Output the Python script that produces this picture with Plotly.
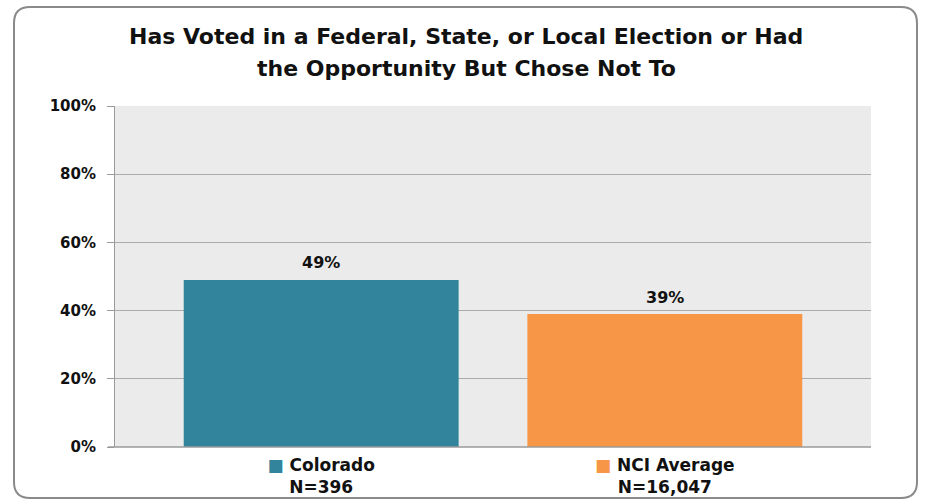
import plotly.graph_objects as go

categories = ["Colorado", "NCI Average"]
sample_sizes = ["N=396", "N=16,047"]
values = [49, 39]
value_labels = ["49%", "39%"]
colors = ["#31849B", "#F79646"]
y_ticks = [0, 20, 40, 60, 80, 100]
y_tick_labels = ["0%", "20%", "40%", "60%", "80%", "100%"]
title_lines = [
    "Has Voted in a Federal, State, or Local Election or Had",
    "the Opportunity But Chose Not To",
]

W, H = 926, 501
L, R, T, B = 115, 55, 106, 54
pw, ph = W - L - R, H - T - B

def px2paper(x, y):
    return (x - L) / pw, (H - B - y) / ph

FONT = "DejaVu Sans"

fig = go.Figure()
fig.add_trace(go.Bar(
    x=list(range(len(categories))), y=values,
    marker=dict(color=colors, line=dict(width=0)),
    width=0.8,
    cliponaxis=False, hoverinfo="skip",
))

# value labels above the bars
for i, (v, lab) in enumerate(zip(values, value_labels)):
    fig.add_annotation(
        x=i, y=v, xref="x", yref="y", text=f"<b>{lab}</b>", showarrow=False,
        yanchor="middle", yshift=17,
        font=dict(family=FONT, size=16, color="#111111"),
    )

# title lines
for line, ypx in zip(title_lines, [37, 68]):
    xp, yp = px2paper(466, ypx)
    fig.add_annotation(
        x=xp, xref="paper", xanchor="center",
        y=yp, yref="paper", yanchor="middle",
        text=f"<b>{line}</b>", showarrow=False,
        font=dict(family=FONT, size=22, color="#111111"),
    )

ticktext = [
    f"<span style='color:{c}'>■</span> {cat}<br>{n}"
    for c, cat, n in zip(colors, categories, sample_sizes)
]

# rounded border
x0, y0, x1, y1, r = 14, 7, 917, 498, 16
def P(x, y):
    a, b = px2paper(x, y)
    return f"{a:.5f},{b:.5f}"
path = (f"M {P(x0 + r, y0)} L {P(x1 - r, y0)} Q {P(x1, y0)} {P(x1, y0 + r)} "
        f"L {P(x1, y1 - r)} Q {P(x1, y1)} {P(x1 - r, y1)} "
        f"L {P(x0 + r, y1)} Q {P(x0, y1)} {P(x0, y1 - r)} "
        f"L {P(x0, y0 + r)} Q {P(x0, y0)} {P(x0 + r, y0)} Z")

fig.update_layout(
    width=W, height=H,
    margin=dict(l=L, r=R, t=T, b=B, pad=0, autoexpand=False),
    paper_bgcolor="white", plot_bgcolor="#EBEBEB",
    showlegend=False,
    xaxis=dict(
        range=[-0.6, 1.6], tickmode="array", tickvals=[0, 1], ticktext=ticktext,
        showgrid=False, zeroline=False, showline=False, ticks="",
        tickfont=dict(family=FONT, size=17, color="#111111", weight="bold"),
        ticklabelstandoff=6, automargin=False,
        fixedrange=True,
    ),
    yaxis=dict(
        range=[0, 100], tickmode="array", tickvals=y_ticks, ticktext=y_tick_labels,
        showgrid=True, gridcolor="#ABABAB", gridwidth=1.3,
        zeroline=False, showline=True, linecolor="#9A9A9A", linewidth=1,
        ticks="outside", ticklen=7, tickcolor="#9A9A9A",
        tickfont=dict(family=FONT, size=15, color="#111111", weight="bold"),
        ticklabelstandoff=8, automargin=False,
        fixedrange=True,
    ),
    shapes=[
        dict(type="path", xref="paper", yref="paper", path=path,
             line=dict(color="#8A8A8A", width=2), fillcolor="rgba(0,0,0,0)", layer="above"),
        dict(type="line", xref="paper", yref="paper", x0=-7 / pw, x1=1, y0=0, y1=0,
             line=dict(color="#9A9A9A", width=1.5)),
    ],
)

fig.write_html(
    "out.html",
    config={"displayModeBar": False, "staticPlot": True},
    post_script="document.body.style.margin='0';document.body.style.overflow='hidden';",
)
